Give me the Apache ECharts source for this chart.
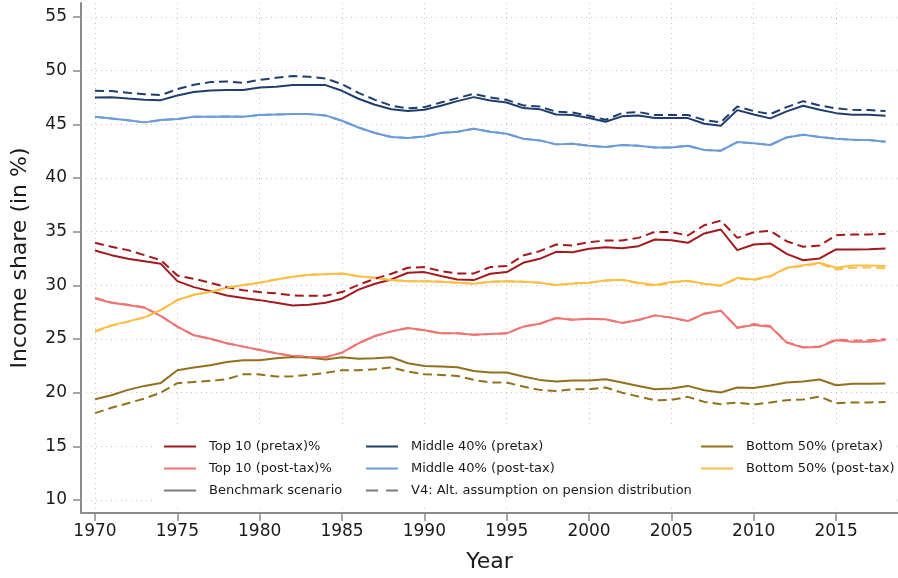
<!DOCTYPE html>
<html>
<head>
<meta charset="utf-8">
<title>Income shares</title>
<script src="https://cdn.jsdelivr.net/npm/echarts@6/dist/echarts.min.js"></script>
<style>
  html, body { margin: 0; padding: 0; background: #fff; }
  #chart { width: 898px; height: 578px; }
</style>
</head>
<body>
<div id="chart"></div>
<script>
// Years on the horizontal axis
const years = [];
for (let y = 1970; y <= 2018; y++) years.push(y);

const xTicks = [1970, 1975, 1980, 1985, 1990, 1995, 2000, 2005, 2010, 2015];
const yTicks = [10, 15, 20, 25, 30, 35, 40, 45, 50, 55];

// Top 10% share, benchmark scenario
const top10Pre = [33.24, 32.81, 32.47, 32.25, 32.0, 30.39, 29.83, 29.46, 29.06, 28.81,
  28.62, 28.38, 28.13, 28.19, 28.38, 28.75, 29.6, 30.15, 30.55, 31.17,
  31.23, 30.86, 30.55, 30.49, 31.08, 31.23, 32.1, 32.47, 33.12, 33.09,
  33.4, 33.55, 33.46, 33.65, 34.27, 34.2, 33.96, 34.83, 35.2, 33.28,
  33.8, 33.9, 32.93, 32.34, 32.5, 33.34, 33.34, 33.37, 33.43];
const top10Post = [28.78, 28.38, 28.16, 27.92, 27.14, 26.15, 25.34, 25.03, 24.6, 24.29,
  23.98, 23.67, 23.42, 23.33, 23.3, 23.73, 24.6, 25.28, 25.71, 26.02,
  25.81, 25.53, 25.53, 25.4, 25.47, 25.53, 26.15, 26.42, 26.95, 26.8,
  26.89, 26.83, 26.5, 26.77, 27.2, 26.99, 26.67, 27.36, 27.64, 26.05,
  26.3, 26.15, 24.66, 24.2, 24.26, 24.88, 24.75, 24.75, 24.91];
// Top 10% share, V4 pension assumption
const top10PreAlt = [33.96, 33.59, 33.28, 32.81, 32.34, 30.92, 30.61, 30.24, 29.83, 29.55,
  29.37, 29.25, 29.06, 29.03, 29.03, 29.37, 30.05, 30.61, 31.08, 31.64,
  31.7, 31.33, 31.11, 31.11, 31.7, 31.79, 32.78, 33.18, 33.8, 33.71,
  34.02, 34.17, 34.18, 34.42, 34.98, 34.95, 34.64, 35.6, 36.03, 34.42,
  34.95, 35.07, 34.11, 33.59, 33.71, 34.67, 34.73, 34.73, 34.8];
const top10PostAlt = [28.85, 28.4, 28.18, 27.95, 27.14, 26.15, 25.34, 25.03, 24.6, 24.29,
  23.98, 23.67, 23.42, 23.33, 23.3, 23.73, 24.6, 25.28, 25.71, 26.02,
  25.81, 25.53, 25.53, 25.4, 25.47, 25.53, 26.15, 26.42, 26.95, 26.8,
  26.89, 26.83, 26.5, 26.77, 27.2, 26.99, 26.67, 27.36, 27.64, 26.05,
  26.4, 26.2, 24.7, 24.22, 24.3, 24.97, 24.85, 24.88, 25.0];

// Middle 40% share
const mid40Pre = [47.5, 47.53, 47.4, 47.28, 47.25, 47.68, 48.0, 48.15, 48.2, 48.2,
  48.43, 48.5, 48.65, 48.65, 48.65, 48.12, 47.38, 46.82, 46.41, 46.23,
  46.35, 46.73, 47.16, 47.53, 47.22, 47.03, 46.51, 46.41, 45.92, 45.86,
  45.58, 45.24, 45.74, 45.83, 45.58, 45.58, 45.58, 45.05, 44.87, 46.32,
  45.92, 45.55, 46.2, 46.73, 46.35, 46.04, 45.89, 45.89, 45.8];
const mid40Post = [45.7, 45.55, 45.37, 45.18, 45.4, 45.49, 45.7, 45.7, 45.73, 45.7,
  45.86, 45.92, 45.95, 45.95, 45.83, 45.33, 44.7, 44.19, 43.81, 43.72,
  43.87, 44.19, 44.31, 44.59, 44.31, 44.12, 43.66, 43.5, 43.13, 43.19,
  43.0, 42.88, 43.07, 43.0, 42.85, 42.85, 43.0, 42.6, 42.54, 43.35,
  43.23, 43.07, 43.78, 44.03, 43.81, 43.66, 43.56, 43.53, 43.38];
const mid40PreAlt = [48.12, 48.1, 47.93, 47.8, 47.72, 48.27, 48.68, 48.93, 48.99, 48.86,
  49.14, 49.33, 49.49, 49.42, 49.27, 48.74, 47.93, 47.28, 46.73, 46.48,
  46.6, 47.03, 47.44, 47.84, 47.5, 47.28, 46.76, 46.66, 46.17, 46.1,
  45.8, 45.42, 46.04, 46.14, 45.86, 45.86, 45.86, 45.4, 45.18, 46.66,
  46.23, 45.95, 46.6, 47.16, 46.76, 46.48, 46.35, 46.33, 46.23];
const mid40PostAlt = [45.7, 45.55, 45.37, 45.18, 45.4, 45.49, 45.7, 45.7, 45.73, 45.7,
  45.86, 45.92, 45.95, 45.95, 45.83, 45.33, 44.7, 44.19, 43.81, 43.72,
  43.87, 44.19, 44.31, 44.59, 44.31, 44.12, 43.66, 43.5, 43.13, 43.19,
  43.0, 42.88, 43.07, 43.0, 42.85, 42.85, 43.0, 42.6, 42.54, 43.35,
  43.23, 43.07, 43.78, 44.03, 43.81, 43.66, 43.56, 43.53, 43.38];

// Bottom 50% share
const bot50Pre = [19.39, 19.76, 20.26, 20.63, 20.91, 22.09, 22.34, 22.55, 22.86, 23.02,
  23.02, 23.2, 23.33, 23.27, 23.08, 23.3, 23.17, 23.2, 23.3, 22.74,
  22.49, 22.43, 22.37, 22.02, 21.87, 21.87, 21.5, 21.19, 21.04, 21.13,
  21.13, 21.25, 20.94, 20.63, 20.32, 20.38, 20.63, 20.23, 20.01, 20.48,
  20.44, 20.66, 20.94, 21.04, 21.22, 20.69, 20.82, 20.82, 20.85];
const bot50Post = [25.74, 26.27, 26.64, 27.02, 27.7, 28.62, 29.12, 29.37, 29.77, 30.02,
  30.24, 30.55, 30.8, 30.98, 31.04, 31.1, 30.84, 30.7, 30.49, 30.39,
  30.39, 30.33, 30.24, 30.15, 30.33, 30.39, 30.33, 30.24, 30.02, 30.18,
  30.24, 30.46, 30.52, 30.24, 30.02, 30.3, 30.42, 30.15, 29.99, 30.7,
  30.55, 30.86, 31.64, 31.88, 32.1, 31.64, 31.85, 31.85, 31.79];
const bot50PreAlt = [18.09, 18.59, 19.02, 19.45, 20.01, 20.88, 21.0, 21.1, 21.25, 21.72,
  21.7, 21.5, 21.53, 21.65, 21.84, 22.09, 22.09, 22.18, 22.34, 21.97,
  21.72, 21.65, 21.56, 21.19, 20.94, 20.94, 20.57, 20.26, 20.16, 20.32,
  20.32, 20.48, 20.0, 19.64, 19.3, 19.33, 19.61, 19.14, 18.93, 19.08,
  18.9, 19.08, 19.3, 19.36, 19.64, 19.02, 19.08, 19.08, 19.14];
const bot50PostAlt = [25.68, 26.22, 26.6, 27.0, 27.7, 28.62, 29.12, 29.37, 29.77, 30.02,
  30.24, 30.55, 30.8, 30.98, 31.04, 31.1, 30.84, 30.7, 30.49, 30.39,
  30.39, 30.33, 30.24, 30.15, 30.33, 30.39, 30.33, 30.24, 30.02, 30.18,
  30.24, 30.46, 30.5, 30.18, 29.95, 30.25, 30.4, 30.12, 29.96, 30.62,
  30.5, 30.82, 31.58, 31.8, 32.02, 31.48, 31.64, 31.66, 31.58];

const FONT = 'DejaVu Sans';
const TEXT_COLOR = '#1a1a1a';
const GRID_COLOR = '#c4c4c4';
const AXIS_COLOR = '#8c8c8c';

const pair = arr => years.map((y, i) => [y, arr[i]]);

function line(name, values, color, dashed) {
  return {
    name: name,
    type: 'line',
    data: pair(values),
    symbol: 'none',
    showSymbol: false,
    lineStyle: { color: color, width: 2, type: dashed ? [9, 5] : 'solid' },
    itemStyle: { color: color },
    emphasis: { disabled: true },
    z: dashed ? 3 : 2
  };
}

const C = {
  top10Pre: '#a3191d',
  top10Post: '#ef7573',
  mid40Pre: '#1f3e6e',
  mid40Post: '#6d9bda',
  bot50Pre: '#93701c',
  bot50Post: '#fbbf48',
  key: '#7a7a7a'
};

const series = [
  line('Top 10 (pretax)%', top10Pre, C.top10Pre, false),
  line('Top 10 (pretax)% V4', top10PreAlt, C.top10Pre, true),
  line('Top 10 (post-tax)%', top10Post, C.top10Post, false),
  line('Top 10 (post-tax)% V4', top10PostAlt, C.top10Post, true),
  line('Middle 40% (pretax)', mid40Pre, C.mid40Pre, false),
  line('Middle 40% (pretax) V4', mid40PreAlt, C.mid40Pre, true),
  line('Middle 40% (post-tax)', mid40Post, C.mid40Post, false),
  line('Middle 40% (post-tax) V4', mid40PostAlt, C.mid40Post, true),
  line('Bottom 50% (pretax)', bot50Pre, C.bot50Pre, false),
  line('Bottom 50% (pretax) V4', bot50PreAlt, C.bot50Pre, true),
  line('Bottom 50% (post-tax)', bot50Post, C.bot50Post, false),
  line('Bottom 50% (post-tax) V4', bot50PostAlt, C.bot50Post, true),
  // style keys: solid = benchmark, dashed = V4
  { name: 'Benchmark scenario', type: 'line', data: [], symbol: 'none',
    lineStyle: { color: C.key, width: 2 }, itemStyle: { color: C.key } },
  { name: 'V4: Alt. assumption on pension distribution', type: 'line', data: [], symbol: 'none',
    lineStyle: { color: C.key, width: 2, type: [9, 5] }, itemStyle: { color: C.key } }
];

// legend keys: a solid bar or a dashed bar
const SOLID_KEY = 'path://M0,0H32V2H0Z';
const DASHED_KEY = 'path://M0,0H12V2H0Z M20,0H32V2H20Z';

function legendCol(left, names) {
  return {
    orient: 'vertical',
    left: left,
    top: 440,
    itemWidth: 32,
    itemHeight: 2,
    itemGap: 9,
    padding: 0,
    selectedMode: false,
    textStyle: { fontFamily: FONT, fontSize: 13, color: TEXT_COLOR, padding: [0, 0, 0, 8] },
    data: names.map(n => ({
      name: n,
      icon: n.indexOf('V4') === 0 ? DASHED_KEY : SOLID_KEY
    }))
  };
}

const legends = [
  legendCol(164, ['Top 10 (pretax)%', 'Top 10 (post-tax)%', 'Benchmark scenario']),
  legendCol(366, ['Middle 40% (pretax)', 'Middle 40% (post-tax)', 'V4: Alt. assumption on pension distribution']),
  legendCol(701, ['Bottom 50% (pretax)', 'Bottom 50% (post-tax)'])
];

const option = {
  animation: false,
  backgroundColor: '#ffffff',
  grid: { left: 81, right: 0, top: 3, bottom: 64, containLabel: false },
  xAxis: {
    type: 'value',
    min: 1969.15,
    max: 2018.76,
    name: 'Year',
    nameLocation: 'middle',
    nameGap: 38,
    nameTextStyle: { fontFamily: FONT, fontSize: 22, color: TEXT_COLOR },
    axisLine: { show: true, lineStyle: { color: AXIS_COLOR, width: 2 } },
    axisTick: { show: true, customValues: xTicks, length: 8, lineStyle: { color: AXIS_COLOR, width: 1.5 } },
    axisLabel: {
      customValues: xTicks, margin: 10, fontFamily: FONT, fontSize: 17, color: TEXT_COLOR,
      formatter: v => String(Math.round(v))
    },
    splitLine: { show: true, lineStyle: { color: GRID_COLOR, width: 1, type: [1, 4] } }
  },
  yAxis: {
    type: 'value',
    min: 8.79,
    max: 56.3,
    name: 'Income share (in %)',
    nameLocation: 'middle',
    nameGap: 50,
    nameRotate: 90,
    nameTextStyle: { fontFamily: FONT, fontSize: 22, color: TEXT_COLOR },
    axisLine: { show: true, lineStyle: { color: AXIS_COLOR, width: 2 } },
    axisTick: { show: true, customValues: yTicks, length: 8, lineStyle: { color: AXIS_COLOR, width: 1.5 } },
    axisLabel: {
      customValues: yTicks, margin: 14, fontFamily: FONT, fontSize: 17, color: TEXT_COLOR,
      formatter: v => String(Math.round(v))
    },
    splitLine: { show: true, lineStyle: { color: GRID_COLOR, width: 1, type: [1, 4] } }
  },
  legend: legends,
  graphic: [{
    type: 'rect',
    z: 3,
    shape: { x: 152, y: 428, width: 741, height: 80 },
    style: { fill: '#ffffff' },
    silent: true
  }],
  series: series
};

const chart = echarts.init(document.getElementById('chart'), null, { renderer: 'canvas' });
chart.setOption(option);
</script>
</body>
</html>
